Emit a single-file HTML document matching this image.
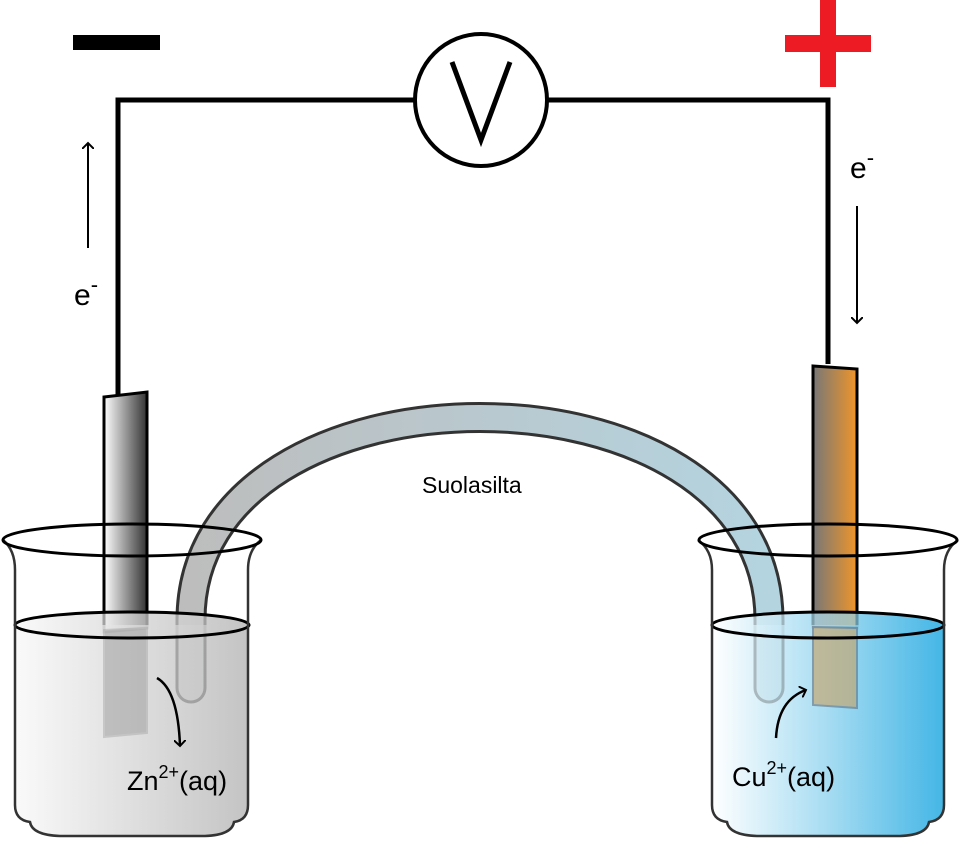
<!DOCTYPE html>
<html><head><style>body{margin:0;background:#fff}svg{display:block}</style></head><body>
<svg width="960" height="843" viewBox="0 0 960 843" xmlns="http://www.w3.org/2000/svg" font-family="'Liberation Sans',sans-serif">
<defs>
<linearGradient id="lq1" x1="0" x2="1"><stop offset="0" stop-color="#fafafa"/><stop offset="1" stop-color="#c4c4c4"/></linearGradient>
<linearGradient id="lq2" x1="0" x2="1"><stop offset="0" stop-color="#ffffff"/><stop offset="0.5" stop-color="#a6dcf2"/><stop offset="1" stop-color="#44b6e6"/></linearGradient>
<linearGradient id="zn" x1="0" x2="1"><stop offset="0" stop-color="#ffffff"/><stop offset="1" stop-color="#333"/></linearGradient>
<linearGradient id="cu" x1="0" x2="1"><stop offset="0" stop-color="#777"/><stop offset="1" stop-color="#f0952a"/></linearGradient>
<linearGradient id="br" x1="0" x2="1"><stop offset="0" stop-color="#bdbdbd"/><stop offset="1" stop-color="#b4d4e0"/></linearGradient>
<marker id="ah" markerWidth="12" markerHeight="12" refX="6" refY="6" orient="auto" markerUnits="userSpaceOnUse"><path d="M0,0 L6,6 L0,12" fill="none" stroke="#000" stroke-width="2"/></marker>
</defs>
<path d="M118,395 V100 H828 V364" fill="none" stroke="#000" stroke-width="5"/>
<circle cx="481" cy="100" r="66" fill="#fff" stroke="#000" stroke-width="4"/>
<path d="M452,62 L481,140 L510,62" fill="none" stroke="#000" stroke-width="5"/>
<rect x="73" y="35" width="87" height="15" fill="#000"/>
<rect x="785" y="35" width="86" height="17" fill="#ed1c24"/>
<rect x="820" y="0" width="16" height="87" fill="#ed1c24"/>
<line x1="88" y1="248" x2="88" y2="143" stroke="#000" stroke-width="2" marker-end="url(#ah)"/>
<text x="74" y="305" font-size="30">e<tspan dy="-13" font-size="22">-</tspan></text>
<line x1="857" y1="206" x2="857" y2="323" stroke="#000" stroke-width="2" marker-end="url(#ah)"/>
<text x="850" y="178" font-size="30">e<tspan dy="-13" font-size="22">-</tspan></text>
<!-- liquids -->
<path d="M15,625 V805 Q15,820 30,822 Q32,835 60,836 H205 Q232,835 234,822 Q248,820 248,805 V625 Z" fill="url(#lq1)"/>
<ellipse cx="132" cy="625" rx="117" ry="13" fill="url(#lq1)"/>
<path d="M712,625 V805 Q712,820 727,822 Q729,835 757,836 H900 Q927,835 929,822 Q944,820 944,805 V625 Z" fill="url(#lq2)"/>
<ellipse cx="828" cy="625" rx="116" ry="13" fill="url(#lq2)"/>
<polygon points="104,397 147,392 147,628 104,632" fill="url(#zn)" stroke="#000" stroke-width="3"/>
<polygon points="813,366 857,369 857,628 813,627" fill="url(#cu)" stroke="#000" stroke-width="3"/>
<path d="M191,688 V620 C191,350 769,350 769,620 V688" fill="none" stroke="#333" stroke-width="31" stroke-linecap="round"/>
<path d="M191,688 V620 C191,350 769,350 769,620 V688" fill="none" stroke="url(#br)" stroke-width="25" stroke-linecap="round"/>
<path d="M15,625 V805 Q15,820 30,822 Q32,835 60,836 H205 Q232,835 234,822 Q248,820 248,805 V625 Z" fill="url(#lq1)" opacity="0.7"/>
<ellipse cx="132" cy="625" rx="117" ry="13" fill="url(#lq1)" opacity="0.7"/>
<path d="M712,625 V805 Q712,820 727,822 Q729,835 757,836 H900 Q927,835 929,822 Q944,820 944,805 V625 Z" fill="url(#lq2)" opacity="0.7"/>
<ellipse cx="828" cy="625" rx="116" ry="13" fill="url(#lq2)" opacity="0.7"/>
<polygon points="104,630 147,628 147,733 104,737" fill="#999" opacity="0.5" stroke="#aaa" stroke-width="2"/>
<polygon points="813,627 857,628 857,708 813,705" fill="#c9a060" opacity="0.6" stroke="#607080" stroke-width="2"/>
<ellipse cx="132" cy="625" rx="117" ry="13" fill="none" stroke="#000" stroke-width="3"/>
<ellipse cx="828" cy="625" rx="116" ry="13" fill="none" stroke="#000" stroke-width="3"/>
<path d="M3,540 Q15,550 15,570 V805 Q15,820 30,822 Q32,835 60,836 H205 Q232,835 234,822 Q248,820 248,805 V570 Q248,550 261,540" fill="none" stroke="#333" stroke-width="2.5"/>
<path d="M698,540 Q712,550 712,570 V805 Q712,820 727,822 Q729,835 757,836 H900 Q927,835 929,822 Q944,820 944,805 V570 Q944,550 958,540" fill="none" stroke="#333" stroke-width="2.5"/>
<ellipse cx="132" cy="540" rx="129" ry="16" fill="none" stroke="#000" stroke-width="3"/>
<ellipse cx="828" cy="540" rx="129" ry="16" fill="none" stroke="#000" stroke-width="3"/>
<path d="M157,678 Q178,690 180,746" fill="none" stroke="#000" stroke-width="2.5" marker-end="url(#ah)"/>
<path d="M776,738 Q778,700 806,690" fill="none" stroke="#000" stroke-width="2.5" marker-end="url(#ah)"/>
<text x="127" y="790" font-size="27">Zn<tspan dy="-12" font-size="18">2+</tspan><tspan dy="12">(aq)</tspan></text>
<text x="732" y="786" font-size="27">Cu<tspan dy="-12" font-size="18">2+</tspan><tspan dy="12">(aq)</tspan></text>
<text x="422" y="493" font-size="23">Suolasilta</text>
</svg>
</body></html>
